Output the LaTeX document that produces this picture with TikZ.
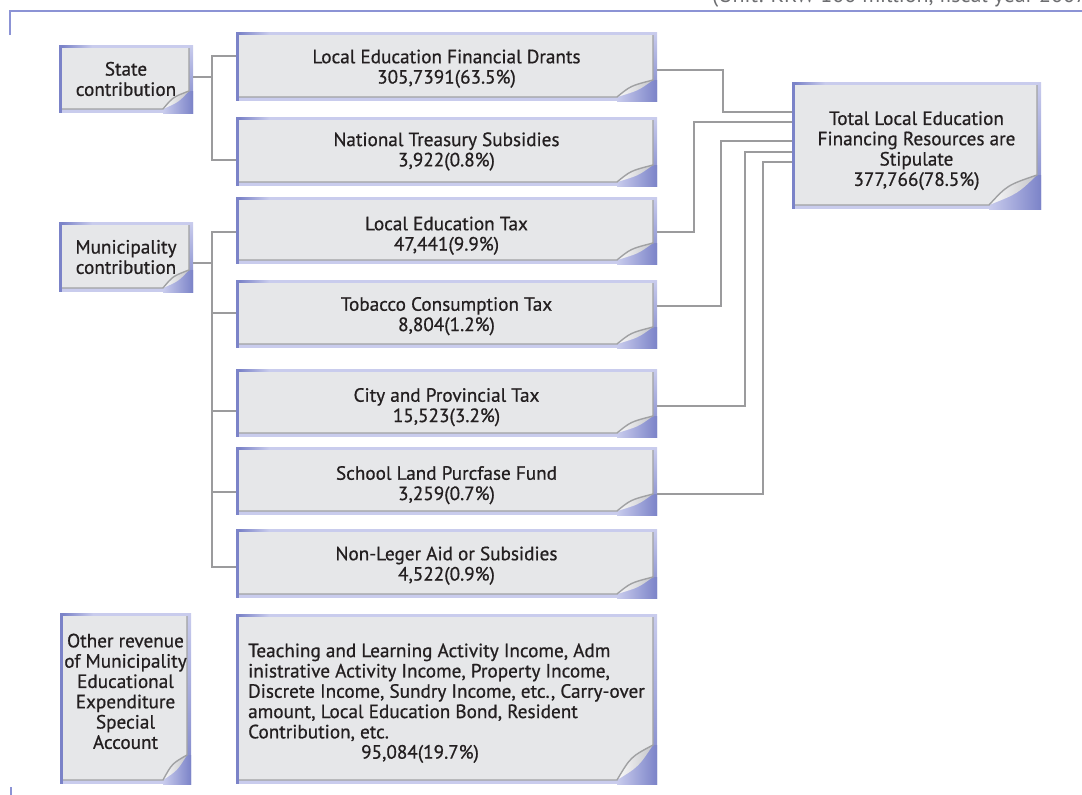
\documentclass[tikz,border=0pt]{standalone}
\usepackage{fontspec}
\setmainfont{PT Sans}
\newfontfamily\cardfamily{PT Sans}[FakeBold=0.7]
\usetikzlibrary{calc}

\definecolor{frameDark}{HTML}{7B83C8}
\definecolor{frameLight}{HTML}{C9CCED}
\definecolor{panelFill}{HTML}{E6E7E9}
\definecolor{panelEdge}{HTML}{A0A1A3}
\definecolor{flapLight}{HTML}{FAFAFA}
\definecolor{flapDark}{HTML}{C4C5C9}
\definecolor{ink}{HTML}{231F20}
\definecolor{lineGray}{HTML}{9B9B9D}
\definecolor{ruleBlue}{HTML}{8C93D5}
\definecolor{unitGray}{HTML}{6D6E71}

\newcommand\cardfont{\cardfamily\fontsize{19.2}{20.3}\selectfont}
% invisible struts that nudge a card's text block down (padtop) or up (padbot)
\newcommand\padtop[1]{\rule{0pt}{#1pt}}
\newcommand\padbot[1]{\rule[-#1pt]{0pt}{#1pt}}

\tikzset{
  curl w/.store in=\curlw, curl w=36,
  curl h/.store in=\curlh, curl h=17,
  card size/.style 2 args={minimum width=#1pt, minimum height=#2pt},
  card/.style={rectangle, inner sep=0pt, align=center, font=\cardfont, text=ink,
    path picture={
      \coordinate (ppsw) at (path picture bounding box.south west);
      \coordinate (ppne) at (path picture bounding box.north east);
      \coordinate (pL) at ($(ppsw)+(3pt,4pt)$);
      \coordinate (pR) at ($(ppne)+(-4pt,-3pt)$);
      \coordinate (pA) at (pR |- pL);
      \coordinate (c1) at ($(pA)+(0pt,\curlh*1pt)$);
      \coordinate (c2) at ($(pA)+(-\curlw*1pt,0pt)$);
      \coordinate (cin) at ($(pA)+(-0.62*\curlw*1pt,0.66*\curlh*1pt)$);
      \coordinate (cout) at ($(pA)+(-0.4*\curlw*1pt,0.38*\curlh*1pt)$);
      % lavender frame
      \fill[frameLight] (ppsw) rectangle (ppne);
      \fill[top color=frameLight, bottom color=frameDark] (pR |- ppsw) rectangle (ppne);
      \fill[left color=frameLight, right color=frameDark] (c2 |- ppsw) rectangle (ppne |- c1);
      \fill[frameDark] (ppsw) rectangle (pL |- ppne);
      \fill[left color=frameDark, right color=frameLight] (pL |- pR) rectangle ($(pL |- ppne)+(30pt,0pt)$);
      % grey sheet with its corner turned up
      \fill[panelFill] (pL) -- (pL |- pR) -- (pR) -- (c1) .. controls (cin) .. (c2) -- cycle;
      \shade[shading angle=135, left color=flapLight, right color=flapDark]
        (c1) .. controls (cin) .. (c2) .. controls (cout) .. (c1) -- cycle;
      \draw[panelEdge, line width=1.4pt] (pR) -- (c1) .. controls (cin) .. (c2) -- (pL);
    }},
  conn/.style={draw=lineGray, line width=2.2pt},
  rule/.style={draw=ruleBlue, line width=2pt}
}

\begin{document}
\begin{tikzpicture}[x=1pt, y=-1pt]
\clip (0,0) rectangle (1082,795);

% heading rule and unit note
\node[anchor=base west, inner sep=0pt, font=\fontsize{22}{24}\selectfont, text=unitGray] (unit) at (712,2.5)
  {(Unit: KRW 100 million, fiscal year 2007)};
\draw[rule] (10,35) -- (10,10.5) -- (1082,10.5);
\draw[rule] (11,787) -- (11,795);

% sources
\node[card, card size={134}{68}, curl w=26, curl h=18] (state) at (126,79) {State\\contribution};
\node[card, card size={134}{70}, curl w=26, curl h=18] (muni) at (126,257) {Municipality\\contribution};
\node[card, card size={131}{171}, curl w=24, curl h=25] (other) at (125.5,698.5)
  {Other revenue\\of Municipality\\Educational\\Expenditure\\Special\\Account\padbot{14.5}};

% revenue items
\node[card, card size={421}{69}] (ledg) at (446.5,66.5) {\padtop{18}Local Education Financial Drants\\305,7391(63.5\%)};
\node[card, card size={421}{69}] (nts) at (446.5,151.5) {National Treasury Subsidies\\3,922(0.8\%)};
\node[card, card size={421}{67}] (ltax) at (446.5,230.5) {\padtop{24}Local Education Tax\\47,441(9.9\%)};
\node[card, card size={421}{68}] (tct) at (446.5,314) {\padtop{18}Tobacco Consumption Tax\\8,804(1.2\%)};
\node[card, card size={421}{68}] (cpt) at (446.5,403) {\padtop{22}City and Provincial Tax\\15,523(3.2\%)};
\node[card, card size={421}{68}] (slp) at (446.5,481) {\padtop{22}School Land Purcfase Fund\\3,259(0.7\%)};
\node[card, card size={421}{69}] (nla) at (446.5,563.5) {\padtop{18}Non-Leger Aid or Subsidies\\4,522(0.9\%)};
\node[card, card size={421}{170}, curl w=36, curl h=35, align=left] (teach) at (446.5,699)
  {\padtop{22}Teaching and Learning Activity Income, Adm\\inistrative Activity Income, Property Income,\\Discrete Income, Sundry Income, etc., Carry-over\\amount, Local Education Bond, Resident\\Contribution, etc.\\\hspace*{113pt}95,084(19.7\%)};

% total
\node[card, card size={249}{127}, curl w=48, curl h=30] (total) at (916.5,145.5)
  {\padtop{24}Total Local Education\\Financing Resources are\\Stipulate\\377,766(78.5\%)};

% junctions of the connector buses
\coordinate (sj) at (212,77);
\coordinate (mj) at (212,263);
\coordinate (rx1) at (723,0);
\coordinate (rx2) at (694,0);
\coordinate (rx3) at (721,0);
\coordinate (rx4) at (745,0);
\coordinate (rx5) at (763,0);

% state contribution
\draw[conn] ([yshift=2pt]state.east) -- (sj);
\draw[conn] ([yshift=10.5pt]ledg.west) -| (sj) |- ([yshift=-8.5pt]nts.west);

% municipality contribution
\draw[conn] ([yshift=-6pt]muni.east) -- (mj);
\draw[conn] ([yshift=-1.5pt]ltax.west) -| (mj) |- ([yshift=-3.5pt]nla.west);
\draw[conn] ([yshift=1pt]tct.west) -- ([yshift=1pt]tct.west -| mj);
\draw[conn] ([yshift=-8pt]cpt.west) -- ([yshift=-8pt]cpt.west -| mj);
\draw[conn] ([yshift=-11pt]slp.west) -- ([yshift=-11pt]slp.west -| mj);

% items feeding the total
\draw[conn] ([yshift=-3.5pt]ledg.east) -- ([yshift=-3.5pt]ledg.east -| rx1) |- ([yshift=33.5pt]total.west);
\draw[conn] ([yshift=-1.5pt]ltax.east) -- ([yshift=-1.5pt]ltax.east -| rx2) |- ([yshift=23.5pt]total.west);
\draw[conn] ([yshift=8pt]tct.east) -- ([yshift=8pt]tct.east -| rx3) |- ([yshift=4.5pt]total.west);
\draw[conn] ([yshift=-3pt]cpt.east) -- ([yshift=-3pt]cpt.east -| rx4) |- ([yshift=-6.5pt]total.west);
\draw[conn] ([yshift=-13pt]slp.east) -- ([yshift=-13pt]slp.east -| rx5) |- ([yshift=-16.5pt]total.west);
\end{tikzpicture}
\end{document}
